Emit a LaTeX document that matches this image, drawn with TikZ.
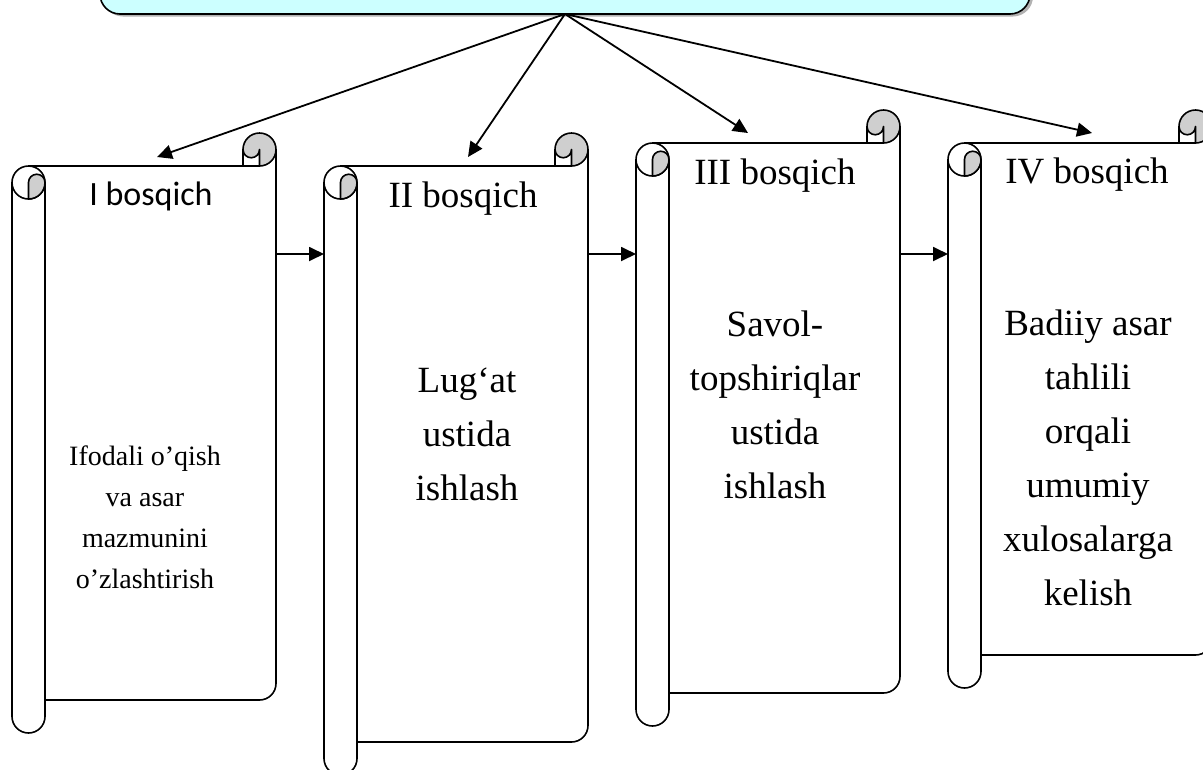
\documentclass[tikz,border=0pt]{standalone}
\usepackage{fontspec}
\setmainfont{Liberation Serif}
\newfontfamily\calibrifont{Carlito}
\usetikzlibrary{arrows.meta}
\definecolor{boxcyan}{HTML}{CCFFFF}
\definecolor{curlgray}{HTML}{CFCFCF}
\tikzset{
  outline/.style={draw=black, line width=1.6pt, line join=round},
  conn/.style={draw=black, line width=1.8pt, -{Triangle[length=15pt, width=14pt]}},
  headtext/.style={anchor=base, inner sep=0pt, font=\fontsize{37}{44}\selectfont},
  headsans/.style={anchor=base, inner sep=0pt, font=\calibrifont\fontsize{34}{40}\selectfont},
  bodytext/.style={anchor=base, inner sep=0pt},
}
\newcommand\drawscroll[4]{%
  \def\L{#1}\def\T{#2}\def\R{#3}\def\B{#4}%
  \def\C{33}\def\H{16.5}\def\Q{8.25}%
  % body
  \fill[white] ({\L+\H},{\T+\C}) -- ({\R},{\T+\C}) -- ({\R},{\B-\C-\H})
      arc[start angle=0, end angle=90, radius=\H] -- ({\L+\H},{\B-\C}) -- cycle;
  % top-right curl
  \filldraw[outline, fill=curlgray] ({\R-\H},{\T+\H}) circle[radius=\H];
  \filldraw[outline, fill=white] ({\R-\C},{\T+\C}) -- ({\R-\C},{\T+\H})
      arc[start angle=180, end angle=0, radius=\Q] -- ({\R-\H},{\T+\C}) -- cycle;
  % top edge
  \draw[outline] ({\L+\H},{\T+\C}) -- ({\R-\H},{\T+\C});
  % right edge and bottom
  \draw[outline] ({\R},{\T+\H}) -- ({\R},{\B-\C-\H})
      arc[start angle=0, end angle=90, radius=\H] -- ({\L+\C},{\B-\C});
  % left roll
  \filldraw[outline, fill=white] ({\L+\C},{\T+\C+\H}) -- ({\L+\C},{\B-\H})
      arc[start angle=0, end angle=180, radius=\H] -- ({\L},{\T+\C+\H});
  \filldraw[outline, fill=white] ({\L+\H},{\T+\C+\H}) circle[radius=\H];
  \filldraw[outline, fill=curlgray] ({\L+\H},{\T+\C+\H})
      arc[start angle=180, end angle=360, radius=\Q]
      arc[start angle=0, end angle=90, radius=\H] -- cycle;
}
\begin{document}
\begin{tikzpicture}[x=1pt, y=-1pt]
\useasboundingbox (0,0) rectangle (1203,769);
\clip (0,0) rectangle (1203,769);
% top box
\fill[gray!60, rounded corners=20pt] (103,-60) rectangle (1033,16.5);
\filldraw[draw=black, line width=1.6pt, fill=boxcyan, rounded corners=20pt] (100,-60) rectangle (1030,14);
\coordinate (apex) at (565,14);

% scrolls
\drawscroll{12}{133}{276}{733}
\drawscroll{324}{133}{588}{775}
\drawscroll{636}{110}{900}{726}
\drawscroll{948}{110}{1212}{688}

% headings
\node[headsans] (h1) at (151,205) {I bosqich};
\node[headtext] (h2) at (463,207) {II bosqich};
\node[headtext] (h3) at (775,184) {III bosqich};
\node[headtext] (h4) at (1087,183) {IV bosqich};

% body texts
\node[bodytext] (b1) at (145,465) {\fontsize{28}{41}\selectfont\begin{tabular}[t]{@{}c@{}}Ifodali o’qish\\va asar\\mazmunini\\o’zlashtirish\end{tabular}};
\node[bodytext] (b2) at (467,392) {\fontsize{37}{54}\selectfont\begin{tabular}[t]{@{}c@{}}Lug‘at\\ustida\\ishlash\end{tabular}};
\node[bodytext] (b3) at (775,336) {\fontsize{37}{54}\selectfont\begin{tabular}[t]{@{}c@{}}Savol-\\topshiriqlar\\ustida\\ishlash\end{tabular}};
\node[bodytext] (b4) at (1088,335) {\fontsize{37}{54}\selectfont\begin{tabular}[t]{@{}c@{}}Badiiy asar\\tahlili\\orqali\\umumiy\\xulosalarga\\kelish\end{tabular}};

% arrow targets
\coordinate (t1) at (157,157);
\coordinate (t2) at (468,157);
\coordinate (t3) at (748,133);
\coordinate (t4) at (1092,133);
\draw[conn] (apex) -- (t1);
\draw[conn] (apex) -- (t2);
\draw[conn] (apex) -- (t3);
\draw[conn] (apex) -- (t4);

% horizontal connectors
\coordinate (s1e) at (276,254);
\coordinate (s2w) at (324,254);
\coordinate (s2e) at (588,254);
\coordinate (s3w) at (636,254);
\coordinate (s3e) at (900,254);
\coordinate (s4w) at (948,254);
\draw[conn] (s1e) -- (s2w);
\draw[conn] (s2e) -- (s3w);
\draw[conn] (s3e) -- (s4w);
\end{tikzpicture}
\end{document}
